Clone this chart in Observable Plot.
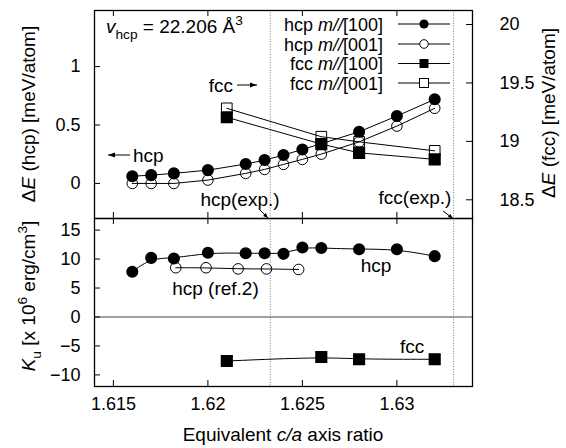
<!DOCTYPE html>
<html><head><meta charset="utf-8">
<script src="https://cdn.jsdelivr.net/npm/d3@7"></script>
<script src="https://cdn.jsdelivr.net/npm/@observablehq/plot@0.6"></script>
<style>
body{margin:0;background:#fff;}
#chart{position:relative;width:566px;height:448px;background:#fff;font-family:"Liberation Sans",Arial,sans-serif;}
#chart svg{position:absolute;left:0;overflow:visible;}
</style></head><body><div id="chart"></div>
<script>
// ---- data ----
const hcpCa   = [1.616, 1.617, 1.6182, 1.620, 1.622, 1.623, 1.624, 1.625, 1.626, 1.628, 1.630, 1.632];
const hcpE100 = [0.062, 0.071, 0.086, 0.114, 0.166, 0.200, 0.243, 0.291, 0.340, 0.442, 0.577, 0.720];
const hcpE001 = [0.000, 0.000, 0.000, 0.029, 0.086, 0.120, 0.163, 0.206, 0.251, 0.356, 0.491, 0.643];
const fccCa   = [1.621, 1.626, 1.628, 1.632];
const fccE100 = [19.206, 18.977, 18.902, 18.846];
const fccE001 = [19.283, 19.040, 18.996, 18.919];
const hcpKu   = [7.8, 10.2, 10.1, 11.1, 11.0, 11.0, 10.9, 12.0, 11.9, 11.7, 11.7, 10.5];
const refCa   = [1.6183, 1.6199, 1.6216, 1.6231, 1.6248];
const refKu   = [8.5, 8.5, 8.3, 8.3, 8.2];
const fccKu   = [-7.6, -6.9, -7.3, -7.3];
const expCa   = [1.6233, 1.633];
const xTicks  = [1.615, 1.62, 1.625, 1.63];
const yTopTicks = [0, 0.5, 1];
const yFccTicks = [18.5, 19, 19.5, 20];
const yKuTicks  = [-10, -5, 0, 5, 10, 15];
const fccOffset = 18.64; // right axis (fcc) = left axis (hcp) + offset
const legendLabels = [["hcp ", "m//", "[100]"], ["hcp ", "m//", "[001]"], ["fcc ", "m//", "[100]"], ["fcc ", "m//", "[001]"]];

// ---- helpers ----
const W = 566, innerW = 378;
const FONT = '"Liberation Sans", Arial, sans-serif';
const style = {fontFamily: FONT, fontSize: "18px", color: "black", background: "transparent", overflow: "visible"};
const fmt = d => (d < 0 ? "\u2212" : "") + Math.abs(d);
const dotted = {stroke: "#777", strokeDasharray: "1,1.6", strokeWidth: 1};

const topRows = hcpCa.map((c, i) => ({c, e100: hcpE100[i], e001: hcpE001[i]}));
const fccRows = fccCa.map((c, i) => ({c, e100: fccE100[i] - fccOffset, e001: fccE001[i] - fccOffset}));
const kuRows  = hcpCa.map((c, i) => ({c, k: hcpKu[i]}));
const refRows = refCa.map((c, i) => ({c, k: refKu[i]}));
const fccKuRows = fccCa.map((c, i) => ({c, k: fccKu[i]}));

const chart = document.getElementById("chart");

// ---- top panel ----
const topH = 219, topMT = 10, topMB = 1, topInnerH = topH - topMT - topMB;
const topPlot = Plot.plot({
  width: W, height: topH, marginLeft: 94, marginRight: 94, marginTop: topMT, marginBottom: topMB,
  style,
  x: {domain: [1.614, 1.634], axis: null},
  y: {domain: [-0.3, 1.48]},
  marks: [
    Plot.ruleX(expCa, {x: d => d, ...dotted}),
    Plot.line(topRows, {x: "c", y: "e100", stroke: "black", strokeWidth: 1}),
    Plot.line(topRows, {x: "c", y: "e001", stroke: "black", strokeWidth: 1}),
    Plot.dot(topRows, {x: "c", y: "e100", r: 5.3, fill: "black", stroke: "black"}),
    Plot.dot(topRows, {x: "c", y: "e001", r: 5.3, fill: "none", stroke: "black", strokeWidth: 1}),
    Plot.line(fccRows, {x: "c", y: "e001", stroke: "black", strokeWidth: 1}),
    Plot.line(fccRows, {x: "c", y: "e100", stroke: "black", strokeWidth: 1}),
    Plot.dot(fccRows, {x: "c", y: "e001", r: 6, symbol: "square", fill: "none", stroke: "black", strokeWidth: 1}),
    Plot.dot(fccRows, {x: "c", y: "e100", r: 6, symbol: "square", fill: "black", stroke: "black"}),
    Plot.axisY({anchor: "left", ticks: yTopTicks, tickFormat: fmt, tickSize: 0, tickPadding: 14, fontSize: 18, label: null}),
    Plot.axisY({anchor: "right", ticks: yFccTicks.map(v => v - fccOffset), tickFormat: d => fmt(Math.round((d + fccOffset) * 10) / 10), tickSize: 0, tickPadding: 27, fontSize: 18, label: null}),
    Plot.tickY(yTopTicks, {y: d => d, insetRight: innerW - 6, stroke: "black"}),
    Plot.tickY(yFccTicks.map(v => v - fccOffset), {y: d => d, insetLeft: innerW - 6, stroke: "black"}),
    Plot.tickX(xTicks, {x: d => d, insetTop: topInnerH - 6, stroke: "black"}),
    Plot.tickX(xTicks, {x: d => d, insetBottom: topInnerH - 6, stroke: "black"}),
    Plot.frame({stroke: "black", strokeWidth: 1.3})
  ]
});
topPlot.style.top = "0px";
chart.appendChild(topPlot);

// ---- bottom panel ----
const botTop = 210, botH = 238, botMT = 8, botMB = 62, botInnerH = botH - botMT - botMB;
const botPlot = Plot.plot({
  width: W, height: botH, marginLeft: 94, marginRight: 94, marginTop: botMT, marginBottom: botMB,
  style,
  x: {domain: [1.614, 1.634]},
  y: {domain: [-12, 17]},
  marks: [
    Plot.ruleY([0], {stroke: "#444", strokeWidth: 1.2}),
    Plot.ruleX(expCa, {x: d => d, ...dotted}),
    Plot.line(kuRows, {x: "c", y: "k", curve: "basis", stroke: "black", strokeWidth: 1}),
    Plot.dot(kuRows, {x: "c", y: "k", r: 5.3, fill: "black", stroke: "black"}),
    Plot.line(refRows, {x: "c", y: "k", curve: "basis", stroke: "black", strokeWidth: 1}),
    Plot.dot(refRows, {x: "c", y: "k", r: 5.3, fill: "none", stroke: "black", strokeWidth: 1}),
    Plot.line(fccKuRows, {x: "c", y: "k", curve: "basis", stroke: "black", strokeWidth: 1}),
    Plot.dot(fccKuRows, {x: "c", y: "k", r: 6, symbol: "square", fill: "black", stroke: "black"}),
    Plot.text(["hcp"], {x: 1.6289, y: 8.9, text: d => d, fontSize: 19, fill: "black"}),
    Plot.text(["hcp (ref.2)"], {x: 1.6204, y: 4.8, text: d => d, fontSize: 19, fill: "black"}),
    Plot.text(["fcc"], {x: 1.6308, y: -5.2, text: d => d, fontSize: 19, fill: "black"}),
    Plot.axisY({anchor: "left", ticks: yKuTicks, tickFormat: fmt, tickSize: 0, tickPadding: 14, fontSize: 18, label: null}),
    Plot.axisX({anchor: "bottom", ticks: xTicks, tickFormat: d => String(d), tickSize: 0, tickPadding: 11, fontSize: 18, label: null}),
    Plot.tickY(yKuTicks, {y: d => d, insetRight: innerW - 6, stroke: "black"}),
    Plot.tickX(xTicks, {x: d => d, insetTop: botInnerH - 6, stroke: "black"}),
    Plot.tickX(xTicks, {x: d => d, insetBottom: botInnerH - 6, stroke: "black"}),
    Plot.frame({stroke: "black", strokeWidth: 1.3})
  ]
});
botPlot.style.top = botTop + "px";
chart.appendChild(botPlot);

// ---- overlay: titles, legend, annotations ----
const ov = d3.select(chart).append("svg")
  .attr("width", W).attr("height", 448)
  .style("top", "0px").style("pointer-events", "none")
  .attr("font-family", FONT);

function rich(x, y, parts, {anchor = "start", size = 19, rotate = 0} = {}) {
  const t = ov.append("text")
    .attr("transform", `translate(${x},${y}) rotate(${rotate})`)
    .attr("text-anchor", anchor).attr("font-size", size).attr("fill", "black");
  let shift = 0;
  for (const p of parts) {
    const s = t.append("tspan").text(p.t);
    const target = p.sub ? size * 0.32 : p.sup ? -size * 0.42 : 0;
    if (target !== shift) { s.attr("dy", target - shift); shift = target; }
    if (p.sub || p.sup) s.attr("font-size", size * 0.72);
    if (p.i) s.attr("font-style", "italic");
  }
  return t;
}
function arrow(x1, y1, x2, y2, head = 7, half = 2.6) {
  ov.append("line").attr("x1", x1).attr("y1", y1).attr("x2", x2).attr("y2", y2)
    .attr("stroke", "black").attr("stroke-width", 1);
  const a = Math.atan2(y2 - y1, x2 - x1), c = Math.cos(a), s = Math.sin(a);
  const bx = x2 - head * c, by = y2 - head * s;
  ov.append("path")
    .attr("d", `M${x2},${y2}L${bx - half * s},${by + half * c}L${bx + half * s},${by - half * c}Z`)
    .attr("fill", "black");
}

// axis titles
rich(35, 114, [{t: "\u0394"}, {t: "E", i: true}, {t: " (hcp) [meV/atom]"}], {anchor: "middle", rotate: -90});
rich(35, 296, [{t: "K", i: true}, {t: "u", sub: true}, {t: " [x 10"}, {t: "6", sup: true}, {t: " erg/cm"}, {t: "3", sup: true}, {t: "]"}], {anchor: "middle", rotate: -90});
rich(555, 113, [{t: "\u0394"}, {t: "E", i: true}, {t: " (fcc) [meV/atom]"}], {anchor: "middle", rotate: -90});
rich(283, 441, [{t: "Equivalent "}, {t: "c/a", i: true}, {t: " axis ratio"}], {anchor: "middle"});

// volume label
rich(106, 33, [{t: "v", i: true}, {t: "hcp", sub: true}, {t: " = 22.206 \u00C5"}, {t: "3", sup: true}], {size: 19});

// legend
const legY = [24, 44, 63.5, 83];
legendLabels.forEach((lab, i) => {
  const y = legY[i];
  rich(383, y + 6.5, [{t: lab[0]}, {t: lab[1], i: true}, {t: lab[2]}], {anchor: "end", size: 18});
  ov.append("line").attr("x1", 398).attr("x2", 450).attr("y1", y).attr("y2", y).attr("stroke", "black");
  if (i === 0) ov.append("circle").attr("cx", 424).attr("cy", y).attr("r", 4.6).attr("fill", "black");
  if (i === 1) ov.append("circle").attr("cx", 424).attr("cy", y).attr("r", 4.3).attr("fill", "white").attr("stroke", "black");
  if (i === 2) ov.append("rect").attr("x", 419.5).attr("y", y - 4.5).attr("width", 9).attr("height", 9).attr("fill", "black");
  if (i === 3) ov.append("rect").attr("x", 419.5).attr("y", y - 4.5).attr("width", 9).attr("height", 9).attr("fill", "white").attr("stroke", "black");
});

// annotations
rich(233, 91.5, [{t: "fcc"}], {anchor: "end"});
arrow(237, 85, 257, 85);
arrow(130, 155, 108, 155);
rich(133, 161.5, [{t: "hcp"}]);
rich(240, 206, [{t: "hcp(exp.)"}], {anchor: "middle"});
arrow(259, 209, 268, 218, 5, 2);
rich(415, 204, [{t: "fcc(exp.)"}], {anchor: "middle"});
arrow(443, 211, 453, 218.5, 5, 2);
</script></body></html>
